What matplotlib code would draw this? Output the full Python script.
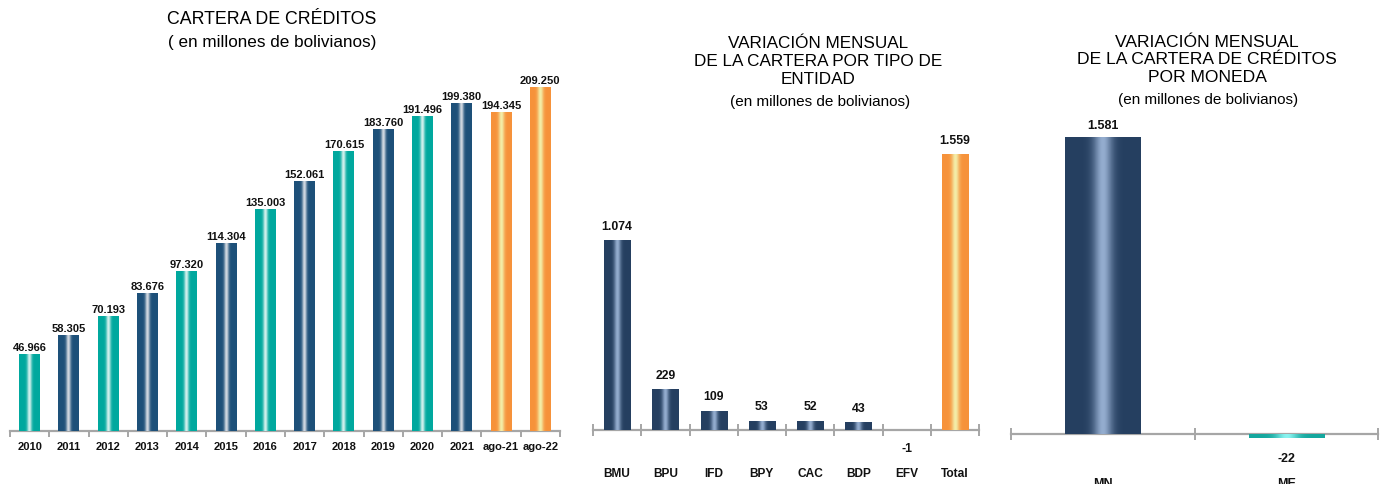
import numpy as np
import matplotlib
matplotlib.use("Agg")
import matplotlib.pyplot as plt
from matplotlib.colors import to_rgb

plt.rcParams['font.family'] = ['Liberation Sans', 'DejaVu Sans']

# --- data ---
years = ['2010', '2011', '2012', '2013', '2014', '2015', '2016', '2017',
         '2018', '2019', '2020', '2021', 'ago-21', 'ago-22']
cartera = [46966, 58305, 70193, 83676, 97320, 114304, 135003, 152061,
           170615, 183760, 191496, 199380, 194345, 209250]
cartera_kind = ['t', 'b', 't', 'b', 't', 'b', 't', 'b', 't', 'b', 't', 'b', 'o', 'o']

entidades = ['BMU', 'BPU', 'IFD', 'BPY', 'CAC', 'BDP', 'EFV', 'Total']
var_entidad = [1074, 229, 109, 53, 52, 43, -1, 1559]
entidad_kind = ['n', 'n', 'n', 'n', 'n', 'n', 'n', 'o']

monedas = ['MN', 'ME']
var_moneda = [1581, -22]
moneda_kind = ['n', 't2']

# gradient styles: (edge colour, centre colour, band width)
styles = {
    't': ('#00a89e', '#d4f1ee', 0.22),
    'b': ('#1d5079', '#d3dae2', 0.22),
    'o': ('#f7923a', '#f3eea8', 0.28),
    'n': ('#253f60', '#94adcf', 0.25),
    't2': ('#14a79e', '#8af3f0', 0.3),
}


def fmt(v):
    return '{:,}'.format(v).replace(',', '.')


def grad_bar(ax, x, h, w, kind):
    edge, centre, sig = styles[kind]
    bar = ax.bar(x, h, w, color=edge, zorder=2, linewidth=0)[0]
    t = np.linspace(-1, 1, 128)
    m = np.exp(-(t / sig) ** 2)[:, None]
    cols = np.array(to_rgb(edge)) * (1 - m) + np.array(to_rgb(centre)) * m
    y0, y1 = sorted([0, h])
    im = ax.imshow(cols[None, :, :], extent=[x - w / 2, x + w / 2, y0, y1],
                   aspect='auto', zorder=3, interpolation='bilinear')
    im.set_clip_path(bar)


def style_axis(ax, n, tick_len, direction, pad, fsize):
    for s in ['top', 'right', 'left']:
        ax.spines[s].set_visible(False)
    ax.spines['bottom'].set_position(('data', 0))
    ax.spines['bottom'].set_color('#a6a6a6')
    ax.spines['bottom'].set_linewidth(1.6)
    ax.set_yticks([])
    ax.set_xticks(range(n))
    ax.set_xticks(np.arange(-0.5, n, 1.0), minor=True)
    ax.tick_params(axis='x', which='major', length=0, pad=pad, labelsize=fsize)
    ax.tick_params(axis='x', which='minor', length=tick_len, width=1.4,
                   color='#a6a6a6', direction=direction)
    for lab in ax.get_xticklabels():
        lab.set_fontweight('bold')
        lab.set_color('#111111')
    ax.set_xlim(-0.5, n - 0.5)
    ax.patch.set_visible(False)


fig = plt.figure(figsize=(13.87, 4.85), dpi=100)

# --- chart 1 ---
ax1 = fig.add_axes([0.0072, 0.1093, 0.3965, 0.7455])
for i, (v, k) in enumerate(zip(cartera, cartera_kind)):
    grad_bar(ax1, i, v, 0.53, k)
    ax1.annotate(fmt(v), (i, v), xytext=(0, 1.5), textcoords='offset points',
                 ha='center', va='bottom', fontsize=8, fontweight='bold', color='#111111')
ax1.set_xticks(range(len(years)))
ax1.set_xticklabels(years)
ax1.set_ylim(0, 220000)
style_axis(ax1, len(years), 4, 'out', 7, 8)

fig.text(272 / 1387, 1 - 20 / 485, 'CARTERA DE CRÉDITOS', ha='center', va='center', fontsize=12.8)
fig.text(272 / 1387, 1 - 42 / 485, '( en millones de bolivianos)', ha='center', va='center', fontsize=12.3)

# --- chart 2 ---
ax2 = fig.add_axes([593 / 1387, 0.0567, 386 / 1387, 0.6747])
for i, (v, k) in enumerate(zip(var_entidad, entidad_kind)):
    grad_bar(ax2, i, v, 0.54, k)
    if v >= 0:
        ax2.annotate(fmt(v), (i, v), xytext=(0, 6), textcoords='offset points',
                     ha='center', va='bottom', fontsize=8.8, fontweight='bold', color='#111111')
    else:
        ax2.annotate(fmt(v), (i, 0), xytext=(0, -9), textcoords='offset points',
                     ha='center', va='top', fontsize=8.8, fontweight='bold', color='#111111')
ax2.set_xticks(range(len(entidades)))
ax2.set_xticklabels(entidades)
ax2.set_ylim(-150, 1700)
style_axis(ax2, len(entidades), 8, 'inout', 27, 8.6)

fig.text(818 / 1387, 1 - 62 / 485, 'VARIACIÓN MENSUAL\nDE LA CARTERA POR TIPO DE\nENTIDAD',
         ha='center', va='center', fontsize=12.3, linespacing=1.25)
fig.text(820 / 1387, 1 - 102 / 485, '(en millones de bolivianos)', ha='center', va='center', fontsize=11)

# --- chart 3 ---
ax3 = fig.add_axes([1011 / 1387, 0.045, 367 / 1387, 0.7167])
for i, (v, k) in enumerate(zip(var_moneda, moneda_kind)):
    grad_bar(ax3, i, v, 0.41, k)
    if v >= 0:
        ax3.annotate(fmt(v), (i, v), xytext=(0, 4), textcoords='offset points',
                     ha='center', va='bottom', fontsize=9, fontweight='bold', color='#111111')
    else:
        ax3.annotate(fmt(v), (i, v), xytext=(0, -10), textcoords='offset points',
                     ha='center', va='top', fontsize=9, fontweight='bold', color='#111111')
ax3.set_xticks(range(len(monedas)))
ax3.set_xticklabels(monedas)
ax3.set_ylim(-150, 1700)
style_axis(ax3, len(monedas), 8, 'inout', 31, 9)

fig.text(1207 / 1387, 1 - 60 / 485, 'VARIACIÓN MENSUAL\nDE LA CARTERA DE CRÉDITOS\nPOR MONEDA',
         ha='center', va='center', fontsize=12.6, linespacing=1.18)
fig.text(1208 / 1387, 1 - 100 / 485, '(en millones de bolivianos)', ha='center', va='center', fontsize=11)

fig.savefig('out.png', dpi=100)
